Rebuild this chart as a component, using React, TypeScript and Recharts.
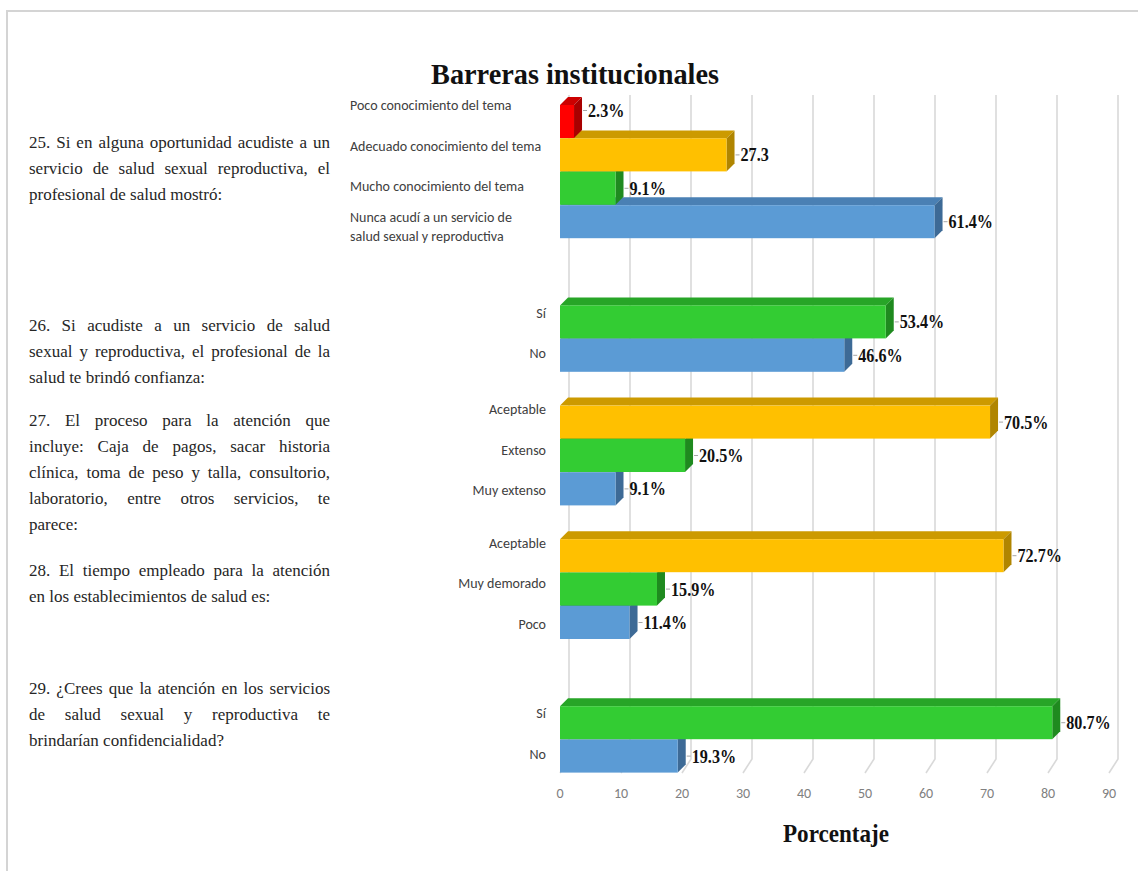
import { BarChart, Bar, XAxis, YAxis, CartesianGrid, LabelList } from 'recharts'

// answers per question, top to bottom as they appear in the chart
const Q25_OPTIONS = [
  'Poco conocimiento del tema',
  'Adecuado conocimiento del tema',
  'Mucho conocimiento del tema',
  'Nunca acudí a un servicio de salud sexual y reproductiva',
]
const Q25_VALUES = [2.3, 27.3, 9.1, 61.4]
const Q25_LABELS = ['2.3%', '27.3', '9.1%', '61.4%']

const Q26_OPTIONS = ['Sí', 'No']
const Q26_VALUES = [53.4, 46.6]
const Q26_LABELS = ['53.4%', '46.6%']

const Q27_OPTIONS = ['Aceptable', 'Extenso', 'Muy extenso']
const Q27_VALUES = [70.5, 20.5, 9.1]
const Q27_LABELS = ['70.5%', '20.5%', '9.1%']

const Q28_OPTIONS = ['Aceptable', 'Muy demorado', 'Poco']
const Q28_VALUES = [72.7, 15.9, 11.4]
const Q28_LABELS = ['72.7%', '15.9%', '11.4%']

const Q29_OPTIONS = ['Sí', 'No']
const Q29_VALUES = [80.7, 19.3]
const Q29_LABELS = ['80.7%', '19.3%']

const X_TICKS = [0, 10, 20, 30, 40, 50, 60, 70, 80, 90]

const QUESTION_25 = [
  '25. Si en alguna oportunidad acudiste a un',
  'servicio de salud sexual reproductiva, el',
  'profesional de salud mostró:',
]
const QUESTION_26 = [
  '26. Si acudiste a un servicio de salud',
  'sexual y reproductiva, el profesional de la',
  'salud te brindó confianza:',
]
const QUESTION_27 = [
  '27. El proceso para la atención que',
  'incluye: Caja de pagos, sacar historia',
  'clínica, toma de peso y talla, consultorio,',
  'laboratorio, entre otros servicios, te',
  'parece:',
]
const QUESTION_28 = [
  '28. El tiempo empleado para la atención',
  'en los establecimientos de salud es:',
]
const QUESTION_29 = [
  '29. ¿Crees que la atención en los servicios',
  'de salud sexual y reproductiva te',
  'brindarían confidencialidad?',
]

// ---- styling / layout ----
const W = 1138
const H = 871
const DEPTH = 8
const SERIF = '"Liberation Serif", "Times New Roman", serif'
const SANS = 'Carlito, "Open Sans", sans-serif'

// colour by position counted from the last answer of each group
const SHADES = [
  { front: '#5B9BD5', top: '#4A80B4', side: '#3D6A96' }, // blue
  { front: '#33CC33', top: '#27A527', side: '#1F8A1F' }, // green
  { front: '#FFC000', top: '#CC9A00', side: '#B08500' }, // yellow
  { front: '#FF0000', top: '#CC0000', side: '#A80000' }, // red
]

// empty rows left after each group
const GAP_AFTER = [2, 1, 1, 2, 0]

// category labels sit a little further apart than the bars (3D perspective)
const LABEL_SPREAD = 7
const LABEL_SHIFT = -6
// data label nudges
const LABEL_DY: Record<string, number> = { 'q0-0': -11 }

// question text blocks: first-line centre
const QUESTION_BLOCKS = [
  { lines: QUESTION_25, y: 143 },
  { lines: QUESTION_26, y: 326 },
  { lines: QUESTION_27, y: 421 },
  { lines: QUESTION_28, y: 571 },
  { lines: QUESTION_29, y: 689 },
]

type Row = { id: string; label: string; value: number | null; text: string; shade: number; slot: number }

const groups = [
  [Q25_OPTIONS, Q25_VALUES, Q25_LABELS],
  [Q26_OPTIONS, Q26_VALUES, Q26_LABELS],
  [Q27_OPTIONS, Q27_VALUES, Q27_LABELS],
  [Q28_OPTIONS, Q28_VALUES, Q28_LABELS],
  [Q29_OPTIONS, Q29_VALUES, Q29_LABELS],
] as [string[], number[], string[]][]

const rows: Row[] = []
groups.forEach(([opts, vals, labels], g) => {
  opts.forEach((o, i) => {
    rows.push({
      id: `q${g}-${i}`,
      label: o,
      value: vals[i],
      text: labels[i],
      shade: opts.length - 1 - i,
      slot: i - (opts.length - 1) / 2,
    })
  })
  for (let s = 0; s < GAP_AFTER[g]; s++) {
    rows.push({ id: `gap${g}-${s}`, label: '', value: null, text: '', shade: 0, slot: 0 })
  }
})
// drawn bottom-up so upper bars cover the top faces of the ones below
const drawRows = [...rows].reverse()
const rowById: Record<string, Row> = {}
rows.forEach((r) => (rowById[r.id] = r))

function Bar3D(props: any) {
  const { x, y, width, height, payload } = props
  if (payload == null || payload.value == null || !(width > 0)) return <g />
  const c = SHADES[payload.shade]
  const d = DEPTH
  const r = x + width
  return (
    <g>
      <polygon points={`${x},${y} ${x + d},${y - d} ${r + d},${y - d} ${r},${y}`} fill={c.top} />
      <polygon points={`${r},${y} ${r + d},${y - d} ${r + d},${y + height - d} ${r},${y + height}`} fill={c.side} />
      <rect x={x} y={y} width={width} height={height} fill={c.front} />
    </g>
  )
}

function BarLabel(props: any) {
  const { x, y, width, height, value } = props
  const row: Row | undefined = value && typeof value === 'object' ? value : undefined
  const text = row ? row.text : typeof value === 'string' ? value : ''
  if (!text || !(width > 0)) return null
  const ex = x + width
  const cy = y + height / 2 + ((row && LABEL_DY[row.id]) || 0)
  return (
    <g>
      <line x1={ex + DEPTH + 1} y1={cy} x2={ex + DEPTH + 5} y2={cy} stroke="#A6A6A6" strokeWidth={1} />
      <text
        transform={`translate(${ex + DEPTH + 6},${cy}) scale(0.85,1)`}
        dominantBaseline="central"
        fontFamily={SERIF}
        fontWeight="bold"
        fontSize={19}
        fill="#111"
      >
        {text}
      </text>
    </g>
  )
}

function wrap(s: string, max: number): string[] {
  const out: string[] = []
  let cur = ''
  for (const w of s.split(' ')) {
    const next = cur ? cur + ' ' + w : w
    if (next.length > max && cur) {
      out.push(cur)
      cur = w
    } else cur = next
  }
  if (cur) out.push(cur)
  return out
}

function CategoryTick(props: any) {
  const { y, payload } = props
  const row = rowById[payload.value]
  if (!row || !row.label) return null
  const long = row.label.length > 14
  const lines = wrap(row.label, 30)
  const tx = long ? 350 : 546
  const cy = y + row.slot * LABEL_SPREAD + LABEL_SHIFT
  const first = cy + 5 - ((lines.length - 1) * 19) / 2
  return (
    <text x={tx} y={first} textAnchor={long ? 'start' : 'end'} fontFamily={SANS} fontSize={14} fill="#404040">
      {lines.map((l, i) => (
        <tspan key={i} x={tx} dy={i === 0 ? 0 : 19}>
          {l}
        </tspan>
      ))}
    </text>
  )
}

const gridLine = (p: any) => {
  const { x1, y1, y2, index } = p
  return (
    <path
      key={`grid-${index}`}
      d={`M${x1 + 9},${y1 - 10} L${x1 + 9},${y2 - 14} L${x1},${y2}`}
      fill="none"
      stroke="#D9D9D9"
      strokeWidth={1.6}
    />
  )
}

function QuestionText({ lines, y }: { lines: string[]; y: number }) {
  return (
    <div
      style={{
        position: 'absolute',
        left: 29,
        top: y - 13,
        width: 301,
        fontFamily: SERIF,
        fontSize: 17,
        lineHeight: '26px',
        color: '#262626',
      }}
    >
      {lines.map((l, i) => (
        <div
          key={i}
          style={{
            whiteSpace: 'nowrap',
            textAlign: i < lines.length - 1 ? 'justify' : 'left',
            textAlignLast: i < lines.length - 1 ? 'justify' : 'left',
          }}
        >
          {l}
        </div>
      ))}
    </div>
  )
}

export default function App() {
  return (
    <div style={{ position: 'absolute', left: 0, top: 0, width: W, height: H, background: '#fff', overflow: 'hidden' }}>
      <BarChart
        width={W}
        height={H}
        data={drawRows}
        layout="vertical"
        barCategoryGap={0}
        barGap={0}
        margin={{ top: 105, right: 29, bottom: 58, left: 350 }}
      >
        <CartesianGrid horizontal={false} vertical={gridLine} />
        <XAxis
          type="number"
          domain={[0, 90]}
          ticks={X_TICKS}
          interval={0}
          tickLine={false}
          axisLine={false}
          tickMargin={9}
          height={40}
          tick={{ fill: '#808080', fontSize: 14, fontFamily: SANS }}
        />
        <YAxis
          type="category"
          dataKey="id"
          reversed
          width={210}
          interval={0}
          tickLine={false}
          axisLine={false}
          tick={<CategoryTick />}
        />
        <Bar dataKey="value" shape={<Bar3D />} isAnimationActive={false}>
          <LabelList valueAccessor={(entry: any) => entry && entry.payload} content={<BarLabel />} />
        </Bar>
      </BarChart>

      <svg width={W} height={H} style={{ position: 'absolute', left: 0, top: 0, pointerEvents: 'none' }}>
        <path d={`M7,${H} L7,11 L${W},11`} fill="none" stroke="#D4D4D4" strokeWidth={2} />
        <text
          x={575}
          y={84}
          textAnchor="middle"
          fontFamily={SERIF}
          fontWeight="bold"
          fontSize={30}
          textLength={288}
          lengthAdjust="spacingAndGlyphs"
          fill="#111"
        >
          Barreras institucionales
        </text>
        <text
          x={836}
          y={842}
          textAnchor="middle"
          fontFamily={SERIF}
          fontWeight="bold"
          fontSize={25}
          textLength={106}
          lengthAdjust="spacingAndGlyphs"
          fill="#111"
        >
          Porcentaje
        </text>
      </svg>

      {QUESTION_BLOCKS.map((q, i) => (
        <QuestionText key={i} lines={q.lines} y={q.y} />
      ))}
    </div>
  )
}
